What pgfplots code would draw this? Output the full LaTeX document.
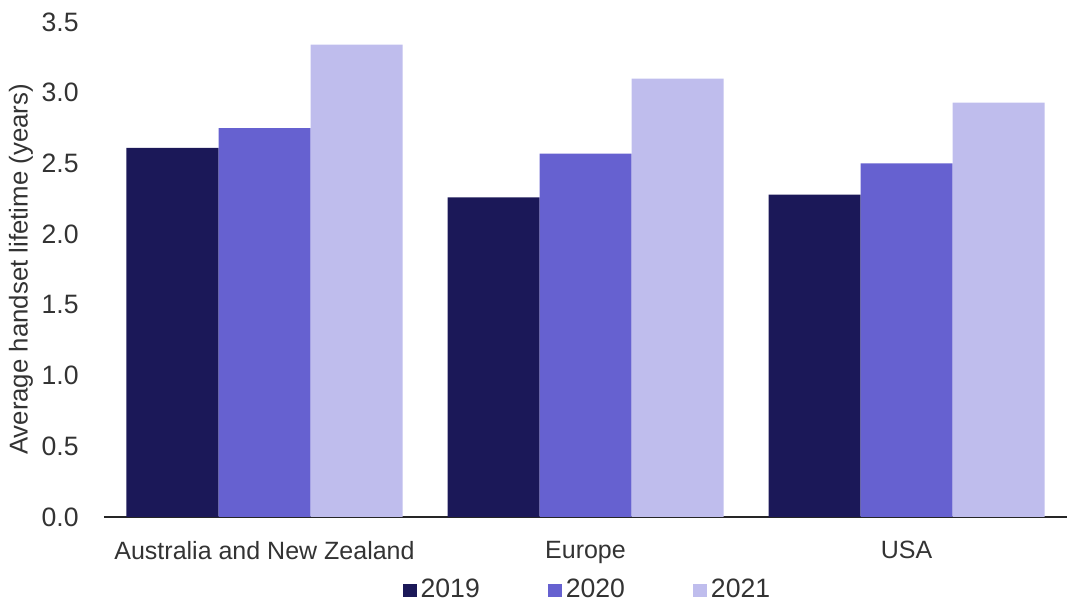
\documentclass[border=0pt]{standalone}
\usepackage{pgfplots}
\pgfplotsset{compat=1.18}
\usepackage{fontspec}
\setmainfont{Liberation Sans}
\definecolor{cA}{HTML}{1B1858}
\definecolor{cB}{HTML}{6661D0}
\definecolor{cC}{HTML}{BFBDED}
\definecolor{txt}{HTML}{333333}
\begin{document}
\fontsize{12}{14}\selectfont
\begin{tikzpicture}
\useasboundingbox (0,0) rectangle (539pt,301.5pt);
\begin{axis}[
  at={(52pt,43pt)}, anchor=south west,
  scale only axis, width=481.5pt, height=247.5pt,
  ybar=0pt, bar width=46pt,
  xmin=-0.5, xmax=2.5, ymin=0, ymax=3.5,
  xtick={0,1,2},
  xticklabels={Australia and New Zealand, Europe, USA},
  ytick={0,0.5,...,3.5},
  axis x line*=bottom, axis y line*=left,
  y axis line style={draw=none},
  x axis line style={draw=black!85, line width=1pt, -},
  tick style={draw=none},
  /pgf/number format/assume math mode=true,
  /pgf/number format/fixed, /pgf/number format/fixed zerofill, /pgf/number format/precision=1,
  ticklabel style={text=txt},
  yticklabel style={xshift=-8.5pt, font=\fontsize{13.3}{15}\selectfont},
  xticklabel style={yshift=-3.5pt, font=\fontsize{12.5}{14}\selectfont},
  ylabel={Average handset lifetime (years)},
  ylabel style={at={(axis description cs:-0.0862,0.5)}, anchor=center, font=\fontsize{12.9}{15}\selectfont, text=txt},
  legend style={at={(axis description cs:0.503,-0.148)}, anchor=center, draw=none, fill=none,
    legend columns=3, font=\fontsize{13.3}{15}\selectfont, text=txt,
    /tikz/every even column/.append style={column sep=32pt}},
  legend image code/.code={\fill[#1] (0pt,-3.3pt) rectangle (7pt,3.3pt);},
]
\addplot[fill=cA, draw=none] coordinates {(0,2.61) (1,2.26) (2,2.28)};
\addplot[fill=cB, draw=none] coordinates {(0,2.75) (1,2.57) (2,2.50)};
\addplot[fill=cC, draw=none] coordinates {(0,3.34) (1,3.10) (2,2.93)};
\legend{2019,2020,2021}
\end{axis}
\end{tikzpicture}
\end{document}
